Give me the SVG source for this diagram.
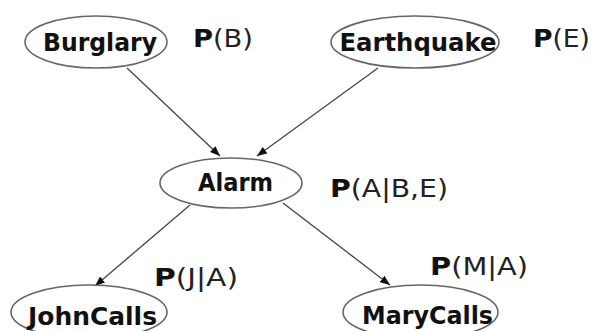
<svg xmlns="http://www.w3.org/2000/svg" width="593" height="331" viewBox="0 0 593 331">
<style>
.node ellipse{fill:#fff;stroke:#666;stroke-width:1.6}
.node text{font-family:"DejaVu Sans",Verdana,sans-serif;font-weight:bold;font-size:24px;fill:#111;text-anchor:middle}
.lbl{font-family:"DejaVu Sans",Verdana,sans-serif;font-size:24px;fill:#222}
.lbl .b{font-weight:bold;fill:#111}
.edge{stroke:#444;stroke-width:1.3;fill:none;marker-end:url(#ah)}
</style>
<defs>
<marker id="ah" viewBox="0 0 10 8" refX="10" refY="4" markerWidth="10" markerHeight="8" markerUnits="userSpaceOnUse" orient="auto">
<path d="M0,0 L10,4 L0,8 Z" fill="#111"/>
</marker>
</defs>
<rect width="593" height="331" fill="#fff"/>
<g id="connectors">
<line class="edge" x1="127" y1="68" x2="220" y2="156"/>
<line class="edge" x1="378" y1="68" x2="257" y2="156"/>
<line class="edge" x1="190" y1="205" x2="95" y2="286"/>
<line class="edge" x1="283" y1="203" x2="390" y2="285"/>
</g>
<g id="burglary" class="node">
<ellipse cx="96" cy="42" rx="71" ry="26"/>
<text x="100" y="51" textLength="114" lengthAdjust="spacingAndGlyphs">Burglary</text>
</g>
<g id="earthquake" class="node">
<ellipse cx="415" cy="42" rx="84" ry="26"/>
<text x="418" y="51" textLength="157" lengthAdjust="spacingAndGlyphs">Earthquake</text>
</g>
<g id="alarm" class="node">
<ellipse cx="231" cy="183" rx="71" ry="25"/>
<text x="235.5" y="191" textLength="75" lengthAdjust="spacingAndGlyphs">Alarm</text>
</g>
<g id="johncalls" class="node">
<ellipse cx="89" cy="312" rx="78" ry="27"/>
<text x="92.5" y="325" textLength="129" lengthAdjust="spacingAndGlyphs">JohnCalls</text>
</g>
<g id="marycalls" class="node">
<ellipse cx="420.5" cy="312" rx="77.5" ry="27"/>
<text x="427.5" y="324" textLength="131" lengthAdjust="spacingAndGlyphs">MaryCalls</text>
</g>
<g id="labels">
<text class="lbl" x="193" y="47" textLength="60" lengthAdjust="spacingAndGlyphs"><tspan class="b">P</tspan>(B)</text>
<text class="lbl" x="533" y="47" textLength="57" lengthAdjust="spacingAndGlyphs"><tspan class="b">P</tspan>(E)</text>
<text class="lbl" x="330" y="197" textLength="118" lengthAdjust="spacingAndGlyphs"><tspan class="b">P</tspan>(A|B,E)</text>
<text class="lbl" x="154" y="286" textLength="84" lengthAdjust="spacingAndGlyphs"><tspan class="b">P</tspan>(J|A)</text>
<text class="lbl" x="430" y="275" textLength="98" lengthAdjust="spacingAndGlyphs"><tspan class="b">P</tspan>(M|A)</text>
</g>
</svg>
